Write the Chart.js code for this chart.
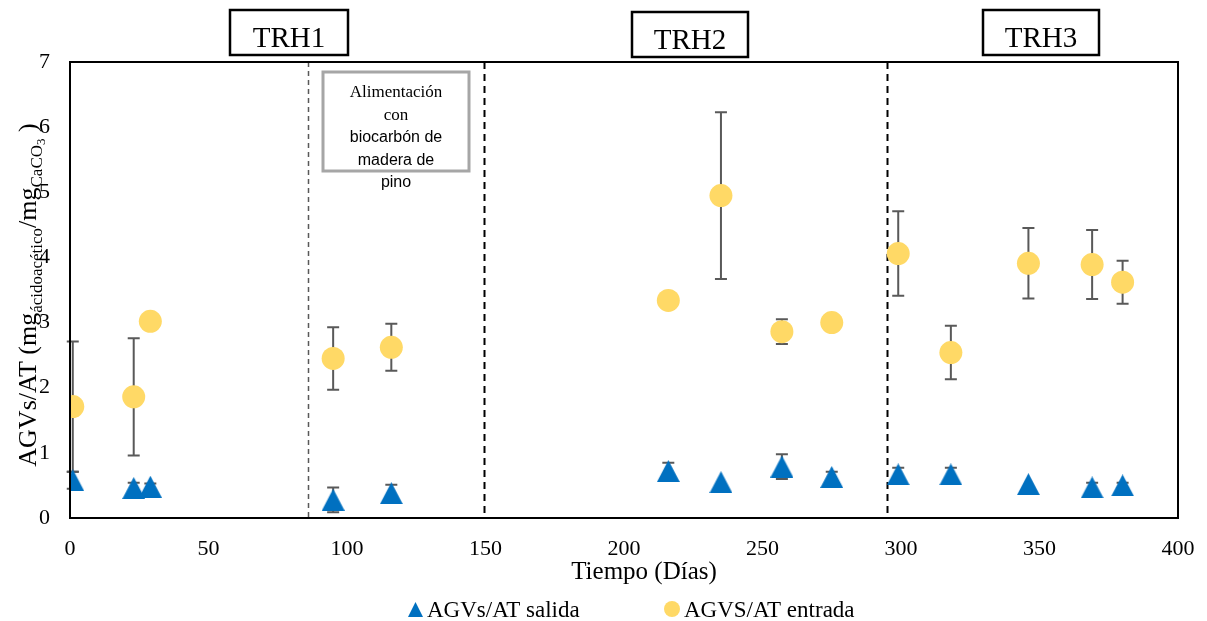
<!DOCTYPE html>
<html>
<head>
<meta charset="utf-8">
<script src="https://cdn.jsdelivr.net/npm/chart.js@4"></script>
<style>
  html, body { margin: 0; padding: 0; background: #fff; }
  canvas { display: block; }
</style>
</head>
<body>
<canvas id="grafico" width="1207" height="621"></canvas>
<script>
// datos
const dias = [1, 23, 29, 95, 116, 216, 235, 257, 275, 299, 318, 346, 369, 380];
const salida = [0.58, 0.46, 0.48, 0.28, 0.38, 0.72, 0.55, 0.79, 0.63, 0.67, 0.67, 0.52, 0.47, 0.50];
const errSalida = [0.13, 0.08, 0.05, 0.19, 0.13, 0.13, 0, 0.19, 0.08, 0.10, 0.10, 0, 0.07, 0.04];
const entrada = [1.71, 1.86, 3.02, 2.45, 2.62, 3.34, 4.95, 2.86, 3.00, 4.06, 2.54, 3.91, 3.89, 3.62];
const errEntrada = [1.0, 0.9, 0, 0.48, 0.36, 0.13, 1.28, 0.19, 0, 0.65, 0.41, 0.54, 0.53, 0.33];
const xTicks = [0, 50, 100, 150, 200, 250, 300, 350, 400];
const yTicks = [0, 1, 2, 3, 4, 5, 6, 7];
const cortes = [86, 149.5, 295];
const etapas = ['TRH1', 'TRH2', 'TRH3'];
const nota = ['Alimentación', 'con', 'biocarbón de', 'madera de', 'pino'];

const SERIF = '"Liberation Serif", "Times New Roman", serif';
const SANS = '"Liberation Sans", Arial, sans-serif';
const AZUL = '#0070C0';
const AMARILLO = '#FFD966';

function triangulo(w, h) {
    const c = document.createElement('canvas');
    c.width = w; c.height = h;
    const g = c.getContext('2d');
    g.fillStyle = AZUL;
    g.beginPath();
    g.moveTo(w / 2, 0);
    g.lineTo(w, h);
    g.lineTo(0, h);
    g.closePath();
    g.fill();
    return c;
}
const triGrande = triangulo(23, 22);
const triChico = triangulo(15, 15);

const extras = {
    id: 'extras',
    beforeDatasetsDraw(chart) {
        const ctx = chart.ctx;
        const xs = chart.scales.x, ys = chart.scales.y;
        const area = chart.chartArea;
        ctx.save();
        // lineas de corte
        cortes.forEach(function(d, i) {
            const px = Math.round(xs.getPixelForValue(d)) + 0.5;
            ctx.beginPath();
            if (i === 0) {
                ctx.strokeStyle = '#595959';
                ctx.lineWidth = 1.5;
                ctx.setLineDash([5, 4]);
            } else {
                ctx.strokeStyle = '#000';
                ctx.lineWidth = 2;
                ctx.setLineDash([7, 5]);
            }
            ctx.moveTo(px, area.top);
            ctx.lineTo(px, area.bottom);
            ctx.stroke();
        });
        ctx.setLineDash([]);
        // barras de error
        ctx.strokeStyle = '#595959';
        ctx.lineWidth = 2;
        const barras = function(vals, errs) {
            vals.forEach(function(v, i) {
                if (!errs[i]) return;
                const px = xs.getPixelForValue(dias[i]);
                const y1 = ys.getPixelForValue(v + errs[i]);
                const y2 = ys.getPixelForValue(Math.max(0, v - errs[i]));
                ctx.beginPath();
                ctx.moveTo(px, y1); ctx.lineTo(px, y2);
                ctx.moveTo(px - 6, y1); ctx.lineTo(px + 6, y1);
                ctx.moveTo(px - 6, y2); ctx.lineTo(px + 6, y2);
                ctx.stroke();
            });
        };
        barras(entrada, errEntrada);
        barras(salida, errSalida);
        ctx.restore();
    },
    afterDraw(chart) {
        const ctx = chart.ctx;
        const area = chart.chartArea;
        ctx.save();
        // marco
        ctx.strokeStyle = '#000';
        ctx.lineWidth = 2;
        ctx.strokeRect(area.left, area.top, area.right - area.left, area.bottom - area.top);

        // etiquetas TRH
        const cajas = [[230, 10, 118, 45], [632, 12, 116, 45], [983, 10, 116, 45]];
        ctx.font = '29px ' + SERIF;
        ctx.fillStyle = '#000';
        ctx.textAlign = 'center';
        ctx.textBaseline = 'alphabetic';
        etapas.forEach(function(t, i) {
            const b = cajas[i];
            ctx.lineWidth = 2.5;
            ctx.strokeRect(b[0], b[1], b[2], b[3]);
            ctx.fillText(t, b[0] + b[2] / 2, b[1] + 37);
        });

        // nota de alimentacion
        ctx.strokeStyle = '#A6A6A6';
        ctx.lineWidth = 3;
        ctx.strokeRect(323, 72, 146, 99);
        ctx.textBaseline = 'middle';
        nota.forEach(function(t, i) {
            ctx.font = (i < 2 ? '17px ' + SERIF : '16px ' + SANS);
            ctx.fillText(t, 396, 93 + i * 22.5);
        });

        // titulo eje x
        ctx.font = '25px ' + SERIF;
        ctx.fillText('Tiempo (Días)', 644, 572);

        // titulo eje y con subindices
        const partes = [
            ['AGVs/AT (mg', 26, 0],
            ['ácidoacético', 17, 6],
            ['/mg', 26, 0],
            ['CaCO', 17, 6],
            ['3', 13, 9],
            [' )', 26, 0]
        ];
        let total = 0;
        partes.forEach(function(p) {
            ctx.font = p[1] + 'px ' + SERIF;
            total += ctx.measureText(p[0]).width;
        });
        ctx.translate(36, 295);
        ctx.rotate(-Math.PI / 2);
        ctx.textAlign = 'left';
        ctx.textBaseline = 'alphabetic';
        let cx = -total / 2;
        partes.forEach(function(p) {
            ctx.font = p[1] + 'px ' + SERIF;
            ctx.fillText(p[0], cx, p[2]);
            cx += ctx.measureText(p[0]).width;
        });
        ctx.setTransform(1, 0, 0, 1, 0, 0);

        // leyenda
        ctx.font = '23px ' + SERIF;
        ctx.textBaseline = 'alphabetic';
        ctx.drawImage(triChico, 408, 602);
        ctx.fillText(chart.data.datasets[0].label, 427, 617);
        ctx.fillStyle = AMARILLO;
        ctx.beginPath();
        ctx.arc(672, 609, 8, 0, Math.PI * 2);
        ctx.fill();
        ctx.fillStyle = '#000';
        ctx.fillText(chart.data.datasets[1].label, 684, 617);
        ctx.restore();
    }
};

new Chart(document.getElementById('grafico'), {
    type: 'scatter',
    data: {
        datasets: [
            {
                label: 'AGVs/AT salida',
                data: dias.map(function(d, i) { return { x: d, y: salida[i] }; }),
                pointStyle: triGrande,
                backgroundColor: AZUL
            },
            {
                label: 'AGVS/AT entrada',
                data: dias.map(function(d, i) { return { x: d, y: entrada[i] }; }),
                pointStyle: 'circle',
                pointRadius: 11.5,
                borderWidth: 0,
                backgroundColor: AMARILLO
            }
        ]
    },
    options: {
        responsive: false,
        animation: false,
        layout: { padding: { top: 62, right: 29, bottom: 0, left: 0 } },
        scales: {
            x: {
                type: 'linear',
                min: 0,
                max: 400,
                afterBuildTicks: function(axis) { axis.ticks = xTicks.map(function(v) { return { value: v }; }); },
                afterFit: function(axis) {
                    axis.height = 103;
                    axis.paddingLeft = 0;
                    axis.paddingRight = 0;
                },
                grid: { display: false, drawTicks: false },
                border: { display: false },
                ticks: { padding: 18, color: '#000', font: { family: SERIF, size: 22 } }
            },
            y: {
                min: 0,
                max: 7,
                afterBuildTicks: function(axis) { axis.ticks = yTicks.map(function(v) { return { value: v }; }); },
                afterFit: function(axis) { axis.width = 70; },
                grid: { display: false, drawTicks: false },
                border: { display: false },
                ticks: { padding: 20, color: '#000', font: { family: SERIF, size: 22 } }
            }
        },
        plugins: {
            legend: { display: false },
            tooltip: { enabled: false }
        }
    },
    plugins: [extras]
});
</script>
</body>
</html>
